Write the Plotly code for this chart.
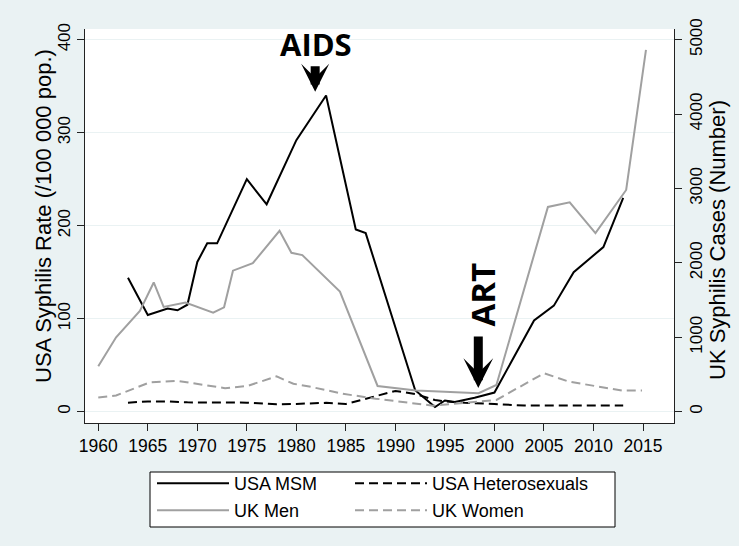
import plotly.graph_objects as go

# ---------------- data ----------------
# USA MSM syphilis rate (/100 000 pop.)  -> left axis
msm_years = [1963, 1965, 1967, 1968, 1969, 1970, 1971, 1972, 1975, 1977, 1980, 1983,
             1986, 1987, 1992, 1994, 1995, 1996, 1998, 2000, 2004, 2006, 2008, 2011, 2013]
msm_rate = [144, 104, 111, 109, 115, 161, 181, 181, 250, 223, 292, 340,
            196, 192, 23, 5, 12, 10.5, 15, 20.5, 98, 114, 150, 177, 230]

# USA heterosexuals syphilis rate (/100 000 pop.) -> left axis
het_years = [1963, 1965, 1967, 1969, 1975, 1978, 1980, 1983, 1985, 1990, 1992, 1994,
             1995, 1997, 2000, 2003, 2013]
het_rate = [9.7, 11, 11, 10, 9.7, 7.9, 8.3, 9.5, 8.2, 22.3, 19, 12.5,
            11, 9.5, 8.2, 6.5, 6.5]

# UK men syphilis cases (number) -> right axis
ukm_years = [1960, 1961.8, 1964.2, 1965.6, 1966.6, 1968.8, 1971.6, 1972.7, 1973.6, 1975.6,
             1978.3, 1979.5, 1980.6, 1984.4, 1988.2, 1992.1, 1998.4, 2000.2, 2005.4, 2007.6,
             2010.2, 2013.3, 2015.3]
ukm_cases = [609, 1000, 1354, 1737, 1408, 1466, 1331, 1403, 1895, 1995,
             2430, 2135, 2105, 1615, 345, 283, 247, 359, 2752, 2814,
             2400, 2980, 4862]

# UK women syphilis cases (number) -> right axis
ukw_years = [1960, 1961.8, 1965.2, 1967.9, 1972.8, 1975.1, 1978.0, 1979.7, 1981.3, 1984.7,
             1988.0, 1993.8, 2000.2, 2005.0, 2007.5, 2012.9, 2014.9]
ukw_cases = [189, 217, 393, 415, 316, 347, 474, 375, 338, 240,
             175, 80, 157, 516, 404, 283, 283]

x_ticks = [1960, 1965, 1970, 1975, 1980, 1985, 1990, 1995, 2000, 2005, 2010, 2015]
left_ticks = [0, 100, 200, 300, 400]
right_ticks = [0, 1000, 2000, 3000, 4000, 5000]

left_title = "USA Syphilis Rate (/100 000 pop.)"
right_title = "UK Syphilis Cases (Number)"

# ---------------- styling ----------------
FONT = "Liberation Sans, Arial, Helvetica, sans-serif"
BOLD_FONT = "Open Sans, Liberation Sans, Arial, sans-serif"
BG = "#eaf2f3"
GRAY = "#a0a0a0"
AX = "#222222"

L, R, T, B = 85, 65, 29, 123
W, H = 739, 546
pw, ph = W - L - R, H - T - B


def px2paper_x(px):
    return (px - L) / pw


def px2paper_y(py):
    return (H - B - py) / ph


fig = go.Figure()

fig.add_trace(go.Scatter(x=msm_years, y=msm_rate, mode="lines", name="USA MSM",
                         line=dict(color="black", width=2), legend="legend"))
fig.add_trace(go.Scatter(x=het_years, y=het_rate, mode="lines", name="USA Heterosexuals",
                         line=dict(color="black", width=2, dash="9px,5px"), legend="legend2"))
fig.add_trace(go.Scatter(x=ukm_years, y=ukm_cases, mode="lines", name="UK Men", yaxis="y2",
                         line=dict(color=GRAY, width=2), legend="legend3"))
fig.add_trace(go.Scatter(x=ukw_years, y=ukw_cases, mode="lines", name="UK Women", yaxis="y2",
                         line=dict(color=GRAY, width=2, dash="9px,5px"), legend="legend4"))

leg_common = dict(orientation="h", xanchor="left", yanchor="top",
                  bgcolor="rgba(0,0,0,0)", borderwidth=0, itemwidth=72,
                  font=dict(family=FONT, size=18, color="black"))

col1_x, col2_x = 152, 350
row1_y, row2_y = 465, 492

fig.update_layout(
    width=W, height=H,
    margin=dict(l=L, r=R, t=T, b=B, autoexpand=False),
    paper_bgcolor=BG, plot_bgcolor="white",
    font=dict(family=FONT, size=17, color="black"),
    xaxis=dict(range=[1958.66, 2018.13], tickvals=x_ticks, showgrid=False, zeroline=False,
               showline=True, linecolor=AX, linewidth=1, ticks="outside", ticklen=7,
               tickcolor=AX, tickfont=dict(size=17.5), automargin=False),
    yaxis=dict(range=[-12.2, 411.5], tickvals=left_ticks, showgrid=True, gridcolor=BG,
               gridwidth=1, zeroline=False, showline=True, linecolor=AX, linewidth=1,
               ticks="outside", ticklen=7, tickcolor=AX, tickangle=-90,
               tickfont=dict(size=17), automargin=False),
    yaxis2=dict(range=[-152.5, 5143.75], tickvals=right_ticks, overlaying="y", side="right",
                showgrid=False, zeroline=False, showline=True, linecolor=AX, linewidth=1,
                ticks="outside", ticklen=7, tickcolor=AX, tickangle=-90,
                tickfont=dict(size=17), automargin=False),
    legend=dict(x=px2paper_x(col1_x), y=px2paper_y(row1_y), **leg_common),
    legend2=dict(x=px2paper_x(col2_x), y=px2paper_y(row1_y), **leg_common),
    legend3=dict(x=px2paper_x(col1_x), y=px2paper_y(row2_y), **leg_common),
    legend4=dict(x=px2paper_x(col2_x), y=px2paper_y(row2_y), **leg_common),
    showlegend=True,
)

# legend frame
fig.add_shape(type="rect", xref="paper", yref="paper",
              x0=px2paper_x(150), x1=px2paper_x(615), y0=px2paper_y(527), y1=px2paper_y(472),
              line=dict(color="black", width=1), fillcolor="white", layer="below")

# axis titles
fig.add_annotation(text=left_title, xref="paper", yref="paper",
                   x=px2paper_x(43), y=px2paper_y(216), xanchor="center", yanchor="middle",
                   textangle=-90, showarrow=False,
                   font=dict(family=FONT, size=22, color="black"))
fig.add_annotation(text=right_title, xref="paper", yref="paper",
                   x=px2paper_x(717), y=px2paper_y(240), xanchor="center", yanchor="middle",
                   textangle=-90, showarrow=False,
                   font=dict(family=FONT, size=22, color="black"))

# AIDS label + arrow
fig.add_annotation(text="<b>AIDS</b>", x=1982.0, y=395.4, showarrow=False,
                   xanchor="center", yanchor="middle",
                   font=dict(family=BOLD_FONT, size=31, color="black"))
fig.add_annotation(text="", x=1981.9, y=344, ax=1981.9, ay=373, axref="x", ayref="y",
                   showarrow=True, arrowhead=3, arrowwidth=9, arrowsize=0.52,
                   arrowcolor="black", standoff=0)

# ART label + arrow
fig.add_annotation(text="<b>ART</b>", x=1998.8, y=125.5, textangle=-90, showarrow=False,
                   xanchor="center", yanchor="middle",
                   font=dict(family=BOLD_FONT, size=33, color="black"))
fig.add_annotation(text="", x=1998.37, y=25.5, ax=1998.37, ay=82.5, axref="x", ayref="y",
                   showarrow=True, arrowhead=3, arrowwidth=9, arrowsize=0.55,
                   arrowcolor="black", standoff=0)

fig.write_html(
    "out.html",
    config={"displayModeBar": False},
    post_script="document.body.style.margin='0px';document.body.style.background='#eaf2f3';",
)
